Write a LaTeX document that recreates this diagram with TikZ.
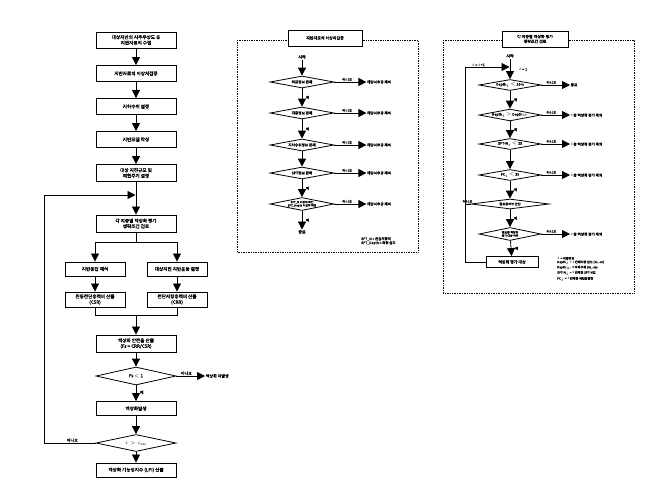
\documentclass[tikz,border=0pt]{standalone}
\usepackage{fontspec}
\setmainfont{Noto Sans CJK KR}[AutoFakeBold=1.2]
\usetikzlibrary{arrows.meta,shapes.geometric}
\begin{document}
\begin{tikzpicture}[x=1pt,y=-1pt,
  box/.style={draw, line width=0.9pt, fill=white, align=center, inner sep=0.5pt, font=\bfseries\fontsize{4.6}{5.6}\selectfont},
  sbox/.style={box, font=\bfseries\fontsize{4}{4.8}\selectfont},
  dia/.style={diamond, draw, line width=0.8pt, fill=white, align=center, inner sep=0pt, shape aspect=5, font=\bfseries\fontsize{4.2}{5}\selectfont},
  sdia/.style={dia, font=\bfseries\fontsize{3.6}{4.2}\selectfont},
  arr/.style={line width=0.8pt, -{Triangle[width=8pt,length=8pt]}},
  ln/.style={line width=0.8pt},
  lab/.style={font=\bfseries\fontsize{4}{4.8}\selectfont, inner sep=0.5pt},
  slab/.style={font=\bfseries\fontsize{3.6}{4.3}\selectfont, inner sep=0.5pt},
  frame/.style={densely dotted, line width=0.7pt}]
\useasboundingbox (0,0) rectangle (663,491);
\fill[white] (0,0) rectangle (663,491);

% ---------------- left column ----------------
\node[box, minimum width=80, minimum height=16] (b1) at (136,40) {대상지반의 시추주상도 등\\지반자료의 수집};
\node[box, minimum width=80, minimum height=16] (b2) at (136,73.5) {지반자료의 이상치검증};
\node[box, minimum width=80, minimum height=16] (b3) at (136,106.5) {지하수위 설정};
\node[box, minimum width=80, minimum height=16] (b4) at (136,139.5) {지반모델 작성};
\node[box, minimum width=80, minimum height=17] (b5) at (136,173) {대상 지진규모 및\\재현주기 설정};
\node[box, minimum width=80, minimum height=17] (b6) at (136,223.5) {각 지층별 액상화 평가\\생략조건 검토};
\node[box, minimum width=60, minimum height=14] (l1) at (95,269) {지반응답 해석};
\node[box, minimum width=60, minimum height=14] (r1) at (177,269) {대상지진 지반운동 결정};
\node[box, minimum width=60, minimum height=15] (l2) at (95,299.5) {진동전단응력비 산출\\(CSR)};
\node[box, minimum width=60, minimum height=15] (r2) at (177,299.5) {전단저항응력비 산출\\(CRR)};
\node[box, minimum width=80, minimum height=17] (b7) at (136,343.5) {액상화 안전율 산출\\(Fs = CRR/CSR)};
\node[dia, minimum width=80, minimum height=18] (d1) at (136,376) {Fs $<$ 1};
\node[lab, anchor=west] (nf) at (205,376) {액상화 미발생};
\node[box, minimum width=80, minimum height=14] (b8) at (136,408.5) {액상화발생};
\node[dia, minimum width=80, minimum height=17] (d2) at (136,443) {$i>i_{\max}$};
\node[box, minimum width=80, minimum height=14] (b9) at (136,470) {액상화 가능성지수 (LPI) 산출};

\coordinate (jin) at (136,195);
\coordinate (lp1) at (44,443);
\coordinate (lp2) at (44,195);
\coordinate (br) at (136,242);
\coordinate (brl) at (95,242);
\coordinate (brr) at (177,242);
\coordinate (mg) at (136,315);
\coordinate (mgl) at (95,315);
\coordinate (mgr) at (177,315);

\draw[arr] (b1) -- (b2);
\draw[arr] (b2) -- (b3);
\draw[arr] (b3) -- (b4);
\draw[arr] (b4) -- (b5);
\draw[arr] (b5) -- (b6);
\draw[ln] (b6.south) -- (br);
\draw[ln] (brl) -- (brr);
\draw[arr] (brl) -- (l1);
\draw[arr] (brr) -- (r1);
\draw[arr] (l1) -- (l2);
\draw[arr] (r1) -- (r2);
\draw[ln] (l2.south) -- (mgl) -- (mgr) -- (r2.south);
\draw[arr] (mg) -- (b7);
\draw[arr] (b7) -- (d1);
\draw[arr] (d1.east) -- node[lab, above, pos=0.35] {아니오} (nf.west);
\draw[arr] (d1) -- node[lab, right, pos=0.45, xshift=3pt] {예} (b8);
\draw[arr] (b8) -- (d2);
\draw[arr] (d2) -- (b9);
\draw[ln] (d2.west) -- node[lab, above, pos=0.45] {아니오} (lp1) -- (lp2);
\draw[arr] (lp2) -- ([xshift=-0.5pt]jin);

% ---------------- middle panel ----------------
\draw[frame] (237,40) rectangle (418,252);
\node[sbox, minimum width=74, minimum height=16] (t2) at (325,38) {지반자료의 이상치검증};
\node[lab] (ms) at (302,57) {시작};
\node[sdia, minimum width=64, minimum height=12] (m1) at (302,82) {좌표정보 존재};
\node[sdia, minimum width=64, minimum height=12] (m2) at (302,113) {지층정보 존재};
\node[sdia, minimum width=64, minimum height=12] (m3) at (302,145) {지하수위정보 존재};
\node[sdia, minimum width=64, minimum height=12] (m4) at (302,173) {SPT정보 존재};
\node[sdia, minimum width=64, minimum height=13, font=\bfseries\fontsize{2.8}{3.3}\selectfont] (m5) at (302,204) {SPT\_N 이상치 확인\\SPT\_Depth 이상치 확인};
\node[lab] (me) at (302,232) {종료};
\foreach \i in {1,...,5}{
  \path (m\i.east) ++(32,0) node[slab, anchor=west] (mx\i) {해당시추공 제외};
  \draw[arr] (m\i.east) -- node[slab, above, pos=0.4] {아니오} (mx\i.west);
}
\draw[arr] (ms) -- (m1);
\draw[arr] (m1) -- node[slab, right, xshift=3pt] {예} (m2);
\draw[arr] (m2) -- node[slab, right, xshift=3pt] {예} (m3);
\draw[arr] (m3) -- (m4);
\draw[arr] (m4) -- node[slab, right, xshift=3pt] {예} (m5);
\draw[arr] (m5) -- node[slab, right, xshift=3pt] {예} (me);
\node[font=\bfseries\fontsize{3.4}{4}\selectfont, anchor=north west, align=left, inner sep=0pt] (mleg) at (361,237) {SPT\_N = 관입저항치\\SPT\_Depth = 측정 심도};

% ---------------- right panel ----------------
\draw[frame] (443,40) rectangle (634,293);
\node[sbox, minimum width=66, minimum height=16] (t3) at (535,39) {각 지층별 액상화 평가\\생략조건 검토};
\node[lab] (rs) at (510,56) {시작};
\node[slab] at (523,69) {$i$ = 1};
\node[sdia, minimum width=62, minimum height=11] (r1d) at (510,85) {Depth$_i$ $<$ 20m};
\node[sdia, minimum width=62, minimum height=11] (r2d) at (510,115) {Depth$_i$ $>$ Depth$_w$};
\node[sdia, minimum width=62, minimum height=11] (r3d) at (510,144) {SPT-N$_i$ $<$ 25};
\node[sdia, minimum width=62, minimum height=11] (r4d) at (510,175) {FC$_i$ $<$ 35};
\node[sdia, minimum width=78, minimum height=10, font=\bfseries\fontsize{3.2}{3.8}\selectfont] (r5d) at (510,204) {점토층여부 판단};
\node[sdia, minimum width=62, minimum height=13, font=\bfseries\fontsize{2.8}{3.3}\selectfont] (r6d) at (510,234) {점토층 액상화\\평가 대상 여부};
\node[sbox, minimum width=52, minimum height=11, line width=0.8pt] (rb) at (512,262) {액상화 평가 대상};

\node[slab, anchor=west] (rx1) at (570,85) {종료};
\foreach \n/\y in {2/115,3/144,4/175,6/234}{
  \node[slab, anchor=west] (rx\n) at (570,\y) {$i$층 액상화 평가 제외};
}
\foreach \n in {1,2,3,4,6}{
  \draw[arr] (r\n d.east) -- node[slab, above, pos=0.35] {아니오} (rx\n.west);
}
\coordinate (rl1) at (465,262);
\coordinate (rl2) at (465,67);
\coordinate (rl3) at (465,204);
\coordinate (rjin) at (510,67);
\draw[arr] (rs) -- (r1d);
\draw[arr] (r1d) -- node[slab, right, xshift=3pt] {예} (r2d);
\draw[arr] (r2d) -- node[slab, right, xshift=3pt] {예} (r3d);
\draw[arr] (r3d) -- (r4d);
\draw[arr] (r4d) -- node[slab, right, xshift=3pt] {예} (r5d);
\draw[arr] (r5d) -- node[slab, right, xshift=3pt] {예} (r6d);
\draw[arr] (r6d) -- node[slab, right, xshift=3pt] {예} (rb);
\draw[ln] (rb.west) -- (rl1) -- (rl2);
\draw[arr] (rl2) -- node[slab, above, pos=0.3] {$i$ = $i$+1} ([xshift=-0.5pt]rjin);
\draw[ln] (r5d.west) -- node[slab, above, pos=0.55] {아니오} (rl3);
\node[font=\bfseries\fontsize{3.1}{3.6}\selectfont, anchor=north west, align=left, inner sep=0pt] (rleg) at (557,256) {$i$ = 지층번호\\Depth$_i$ = $i$번째지층 심도 (GL.-m)\\Depth$_w$ = 지하수위 (GL.-m)\\SPT-N$_i$ = $i$번째층 SPT-N값\\FC$_i$ = $i$번째층 세립분함량};
\end{tikzpicture}
\end{document}
